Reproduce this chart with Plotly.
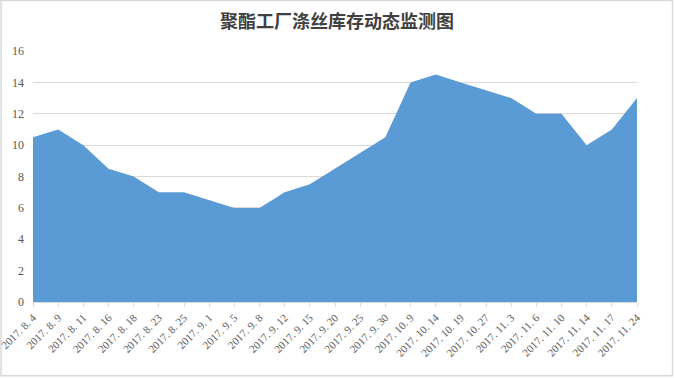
import plotly.graph_objects as go

dates = ["2017. 8. 4", "2017. 8. 9", "2017. 8. 11", "2017. 8. 16", "2017. 8. 18", "2017. 8. 23",
         "2017. 8. 25", "2017. 9. 1", "2017. 9. 5", "2017. 9. 8", "2017. 9. 12", "2017. 9. 15",
         "2017. 9. 20", "2017. 9. 25", "2017. 9. 30", "2017. 10. 9", "2017. 10. 14", "2017. 10. 19",
         "2017. 10. 27", "2017. 11. 3", "2017. 11. 6", "2017. 11. 10", "2017. 11. 14", "2017. 11. 17",
         "2017. 11. 24"]
stock = [10.5, 11, 10, 8.5, 8, 7, 7, 6.5, 6, 6, 7, 7.5, 8.5, 9.5, 10.5, 14, 14.5, 14,
         13.5, 13, 12, 12, 10, 11, 13]
y_ticks = [0, 2, 4, 6, 8, 10, 12, 14, 16]
title = "聚酯工厂涤丝库存动态监测图"

W, H = 674, 378
ml, mr, mt, mb = 33, 37, 51, 75.5
pw, ph = W - ml - mr, H - mt - mb

fig = go.Figure()
fig.add_trace(go.Scatter(
    x=list(range(len(dates))), y=stock, mode="lines", fill="tozeroy",
    line=dict(width=0, color="#5B9BD5"), fillcolor="#5B9BD5", hoverinfo="skip",
))

fig.update_layout(
    width=W, height=H, margin=dict(l=ml, r=mr, t=mt, b=mb, autoexpand=False),
    paper_bgcolor="white", plot_bgcolor="white", showlegend=False,
    title=dict(text=title, x=0.5, xanchor="center", y=1 - 22 / H, yanchor="middle",
               font=dict(family="Noto Sans CJK SC", size=18, color="#404040", weight="bold")),
    xaxis=dict(
        range=[0, len(dates) - 1], tickmode="array", automargin=False,
        tickvals=list(range(len(dates))), ticktext=dates, tickangle=-45,
        ticklabeloverflow="allow",
        showgrid=False, zeroline=False, showline=True, linecolor="#d9d9d9", linewidth=1,
        ticks="outside", ticklen=4, tickcolor="#d9d9d9",
        tickfont=dict(family="Liberation Serif, DejaVu Serif, serif", size=11, color="#595959"),
    ),
    yaxis=dict(
        range=[0, 16], tickmode="array", tickvals=y_ticks, ticktext=[str(v) for v in y_ticks],
        automargin=False,
        showgrid=True, gridcolor="#d9d9d9", gridwidth=1, zeroline=False, showline=False,
        ticks="", ticklabelstandoff=8,
        tickfont=dict(family="Liberation Serif, DejaVu Serif, serif", size=12, color="#595959"),
    ),
)

fig.add_shape(type="rect", xref="paper", yref="paper",
              x0=(1 - ml) / pw, x1=(W - 1.5 - ml) / pw,
              y0=-(mb - 1.5) / ph, y1=(H - mb - 0.5) / ph,
              line=dict(color="#d9d9d9", width=1.5), layer="below")

fig.write_html("out.html", config={"displayModeBar": False},
               post_script="document.body.style.margin='0';")
